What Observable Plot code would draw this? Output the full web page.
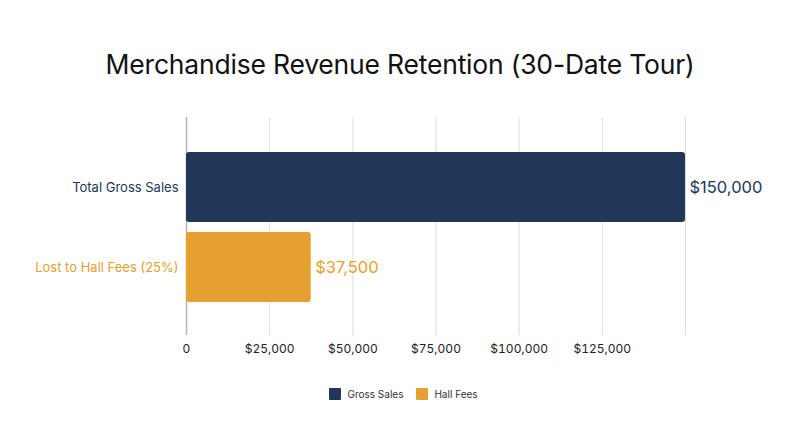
<!DOCTYPE html>
<html><head><meta charset="utf-8">
<script src="https://cdn.jsdelivr.net/npm/d3@7"></script>
<script src="https://cdn.jsdelivr.net/npm/@observablehq/plot@0.6"></script>
<style>
body{margin:0;background:#fff;font-family:Inter,"Noto Sans",sans-serif;}
#wrap{width:800px;height:447px;position:relative;}
h1{margin:0;position:absolute;top:48px;width:800px;text-align:center;font-weight:400;font-size:26.5px;color:#111;letter-spacing:-0.2px;}
#chart{position:absolute;top:100px;left:0;}
#legend{position:absolute;top:388px;left:0;width:800px;padding-left:7px;box-sizing:border-box;display:flex;justify-content:center;gap:13px;font-size:10px;color:#333;}
#legend span{display:flex;align-items:center;gap:6px;}
#legend i{display:inline-block;width:12px;height:12px;border-radius:1px;}
</style></head>
<body><div id="wrap">
<h1>Merchandise Revenue Retention (30-Date Tour)</h1>
<div id="chart"></div>
<div id="legend"></div>
</div>
<script>
const categories = ["Total Gross Sales", "Lost to Hall Fees (25%)"];
const values = [150000, 37500];
const series = ["Gross Sales", "Hall Fees"];
const colors = ["#22365a", "#e6a02f"];
const tickValues = [0, 25000, 50000, 75000, 100000, 125000];
const gridValues = [0, 25000, 50000, 75000, 100000, 125000, 150000];

const data = categories.map((c, i) => ({category: c, value: values[i], series: series[i], color: colors[i]}));
const fmt = v => v === 0 ? "0" : "$" + d3.format(",")(v);

const chart = Plot.plot({
  width: 800, height: 270,
  marginLeft: 186, marginRight: 115, marginTop: 17, marginBottom: 35,
  style: {fontFamily: "Inter, 'Noto Sans', sans-serif", background: "#fff"},
  x: {domain: [0, 150000], axis: null, label: null},
  y: {domain: categories, axis: null, label: null, padding: 0.125, insetTop: 25, insetBottom: 23},
  marks: [
    Plot.ruleX(gridValues.filter(d => d > 0), {stroke: "#dcdcdc", strokeWidth: 1}),
    Plot.ruleX([0], {stroke: "#b5b5b5", strokeWidth: 1.5}),
    Plot.barX(data, {x: "value", y: "category", fill: "color", rx: 3}),
    Plot.text(data, {x: "value", y: "category", text: d => fmt(d.value), fill: "color", textAnchor: "start", dx: 4, fontSize: 16.5}),
    Plot.text(data, {x: 0, y: "category", text: "category", fill: "color", textAnchor: "end", dx: -8, fontSize: 13}),
    Plot.axisX({ticks: tickValues, tickSize: 0, tickPadding: 9, tickFormat: fmt, fontSize: 12, color: "#222", anchor: "bottom", label: null})
  ]
});
document.getElementById("chart").appendChild(chart);

const lg = d3.select("#legend");
series.forEach((s, i) => {
  const sp = lg.append("span");
  sp.append("i").style("background", colors[i]);
  sp.append("b").style("font-weight", "400").text(s);
});
</script>
</body></html>
